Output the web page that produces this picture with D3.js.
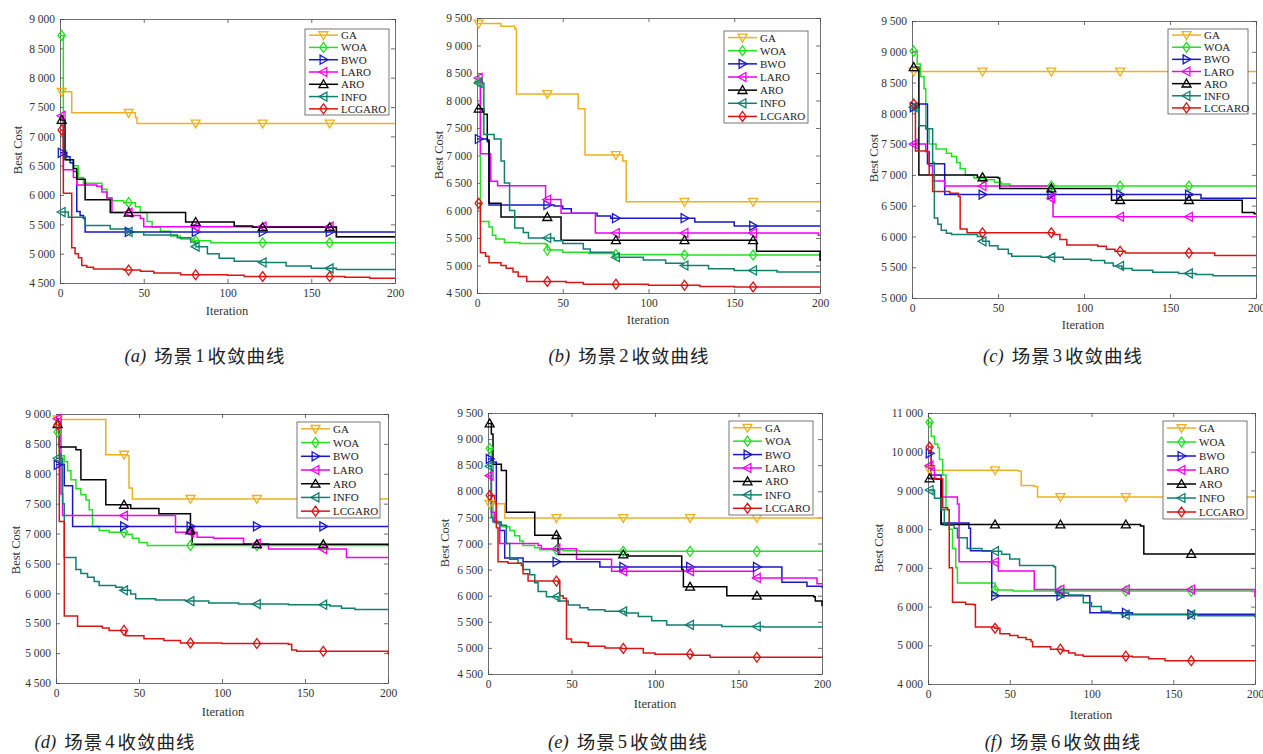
<!DOCTYPE html>
<html>
<head>
<meta charset="utf-8">
<script src="https://cdn.jsdelivr.net/npm/d3@7"></script>
<style>
  body { margin: 0; background: #fff; }
  svg { display: block; }
</style>
</head>
<body>
<div id="chart"></div>
<script>
// series names and looks
const seriesNames = ["GA", "WOA", "BWO", "LARO", "ARO", "INFO", "LCGARO"];
const seriesColors = ["#EDB120", "#22E022", "#1818C8", "#F000F0", "#000000", "#0F7F70", "#D81414"];
const seriesMarkers = ["down", "diamond", "right", "left", "up", "left", "diamond"];
const markerIters = [1, 41, 81, 121, 161];
const xTicks = [0, 50, 100, 150, 200];

// (a) scene 1  -- [iteration, best cost] step breakpoints
const aGA = [[0,7760],[7,7400],[45,7320],[46,7220],[200,7220]];
const aWOA = [[0,8720],[2,6750],[4,6600],[8,6500],[11,6300],[14,6200],[25,6100],[28,5950],[31,5900],[38,5870],[45,5800],[48,5700],[52,5550],[55,5450],[60,5380],[66,5300],[72,5250],[80,5220],[90,5185],[200,5180]];
const aBWO = [[0,6720],[4,6650],[6,6550],[8,6400],[10,5720],[12,5650],[14,5600],[15,5370],[200,5370]];
const aLARO = [[0,7350],[2,6430],[8,6300],[10,6170],[22,6150],[25,6050],[28,5950],[31,5700],[43,5650],[48,5600],[50,5460],[164,5460],[165,5290],[200,5290]];
const aARO = [[0,7280],[3,6600],[8,6450],[10,6270],[15,5920],[30,5700],[75,5540],[104,5470],[115,5450],[164,5450],[165,5290],[200,5290]];
const aINFO = [[0,5710],[5,5620],[15,5480],[30,5420],[41,5370],[50,5320],[70,5270],[78,5200],[81,5120],[88,5000],[95,4920],[104,4870],[120,4850],[135,4790],[150,4750],[165,4730],[200,4720]];
const aLCGARO = [[0,7110],[2,6030],[7,5100],[9,5000],[11,4930],[13,4800],[16,4770],[20,4740],[38,4720],[48,4700],[56,4670],[72,4640],[100,4630],[110,4610],[170,4600],[185,4580],[200,4580]];

// (b) scene 2
const bGA = [[0,9400],[14,9350],[22,9300],[23,8120],[59,7850],[63,7010],[85,6900],[87,6160],[200,6160]];
const bWOA = [[0,8350],[2,5800],[7,5700],[9,5550],[11,5480],[16,5420],[25,5400],[40,5380],[41,5280],[50,5240],[65,5220],[80,5200],[120,5190],[200,5190]];
const bBWO = [[0,7300],[6,7250],[7,6100],[45,6080],[50,6030],[55,5950],[70,5900],[78,5860],[126,5860],[127,5790],[150,5720],[200,5720]];
const bLARO = [[0,8410],[2,7030],[8,6530],[12,6450],[39,6450],[40,6200],[49,5950],[69,5590],[198,5590],[199,5550],[200,5550]];
const bARO = [[0,7850],[4,7750],[6,7280],[7,6130],[14,5880],[48,5880],[49,5460],[162,5460],[163,5260],[199,5260],[200,5080]];
const bINFO = [[0,8320],[4,7380],[10,7300],[14,6900],[16,6500],[19,6000],[22,5680],[27,5600],[30,5500],[45,5450],[50,5400],[62,5300],[66,5240],[80,5150],[97,5100],[110,5040],[120,5000],[135,4940],[150,4910],[175,4880],[200,4870]];
const bLCGARO = [[0,6130],[2,5230],[5,5170],[7,5050],[14,5000],[17,4950],[21,4880],[24,4800],[29,4710],[52,4690],[62,4660],[100,4640],[130,4620],[150,4610],[200,4610]];

// (c) scene 3
const cGA = [[0,8680],[200,8680]];
const cWOA = [[0,9010],[3,8800],[5,8600],[7,8400],[8,7750],[10,7500],[14,7420],[20,7350],[23,7300],[26,7200],[28,7100],[31,7000],[36,6950],[42,6920],[48,6880],[52,6850],[57,6820],[200,6820]];
const cBWO = [[0,8100],[4,8150],[9,7180],[19,6680],[166,6680],[168,6620],[200,6620]];
const cLARO = [[0,7500],[8,7380],[10,7150],[12,6900],[19,6820],[81,6620],[82,6320],[200,6320]];
const cARO = [[0,8750],[4,7000],[38,6960],[50,6950],[51,6780],[115,6780],[116,6590],[191,6590],[192,6390],[199,6370],[200,6370]];
const cINFO = [[0,8100],[4,7800],[8,7750],[12,7200],[13,6300],[15,6200],[17,6100],[20,6050],[23,6030],[38,6000],[41,5920],[45,5850],[50,5790],[56,5720],[58,5680],[75,5660],[88,5630],[104,5610],[112,5570],[117,5520],[122,5480],[128,5450],[140,5420],[155,5400],[165,5380],[175,5360],[200,5350]];
const cLCGARO = [[0,8150],[2,7390],[9,7350],[10,7000],[12,6730],[22,6700],[27,6650],[28,6120],[32,6060],[82,6030],[86,5950],[90,5860],[108,5840],[113,5790],[118,5760],[124,5730],[176,5690],[200,5690]];

// (d) scene 4
const dGA = [[0,8910],[30,8320],[43,8300],[44,7760],[46,7580],[200,7580]];
const dWOA = [[0,8700],[2,8300],[5,8200],[7,8050],[9,7900],[12,7750],[15,7650],[18,7560],[20,7400],[22,7120],[26,7050],[32,7020],[42,6990],[46,6920],[50,6850],[55,6800],[200,6790]];
const dBWO = [[0,8150],[4,8160],[5,7800],[9,7800],[10,7120],[200,7120]];
const dLARO = [[0,8920],[3,7660],[4,7300],[71,7300],[72,7020],[85,6940],[95,6920],[113,6830],[128,6740],[174,6740],[175,6600],[200,6600]];
const dARO = [[0,8830],[2,8450],[12,8400],[15,7900],[30,7480],[45,7420],[62,7330],[80,7330],[81,7050],[82,6820],[200,6800]];
const dINFO = [[0,8260],[4,7500],[5,6600],[12,6400],[15,6330],[19,6270],[23,6200],[26,6130],[36,6100],[40,6050],[45,5990],[48,5910],[60,5890],[78,5870],[92,5840],[110,5820],[140,5810],[165,5790],[172,5750],[180,5730],[200,5730]];
const dLCGARO = [[0,8820],[2,7200],[5,5620],[13,5450],[28,5420],[32,5380],[42,5290],[53,5240],[65,5210],[75,5170],[100,5160],[140,5150],[142,5050],[145,5030],[198,5030],[200,4980]];

// (e) scene 5
const eGA = [[0,7760],[9,7760],[10,7490],[200,7490]];
const eWOA = [[0,8820],[2,7800],[3,7430],[6,7380],[8,7320],[13,7250],[16,7150],[19,7050],[21,6960],[28,6920],[31,6880],[45,6860],[55,6850],[200,6850]];
const eBWO = [[0,8620],[3,8560],[5,7400],[7,7250],[10,6720],[21,6650],[67,6550],[175,6550],[176,6260],[191,6180],[200,6150]];
const eLARO = [[0,8300],[2,7600],[4,7400],[7,7000],[30,6960],[32,6900],[52,6900],[53,6700],[73,6700],[74,6470],[158,6470],[159,6340],[196,6340],[197,6230],[200,6230]];
const eARO = [[0,9300],[2,9100],[3,8520],[8,8400],[11,7600],[28,7160],[42,6790],[84,6760],[116,6500],[117,6170],[143,6000],[195,5980],[196,5900],[199,5900],[200,5800]];
const eINFO = [[0,8480],[2,7500],[3,7410],[8,7350],[11,7000],[13,6700],[18,6620],[21,6500],[25,6400],[28,6250],[30,6080],[35,5980],[42,5900],[48,5820],[55,5770],[60,5730],[70,5700],[82,5670],[90,5600],[98,5520],[107,5440],[140,5410],[165,5400],[200,5390]];
const eLCGARO = [[0,7920],[4,7800],[5,7300],[6,6650],[12,6620],[20,6580],[21,6420],[24,6280],[42,6260],[43,6000],[45,5950],[47,5170],[50,5110],[58,5100],[60,5030],[70,5000],[80,4990],[92,4990],[93,4900],[100,4880],[122,4860],[133,4820],[200,4810]];

// (f) scene 6
const fGA = [[0,9520],[55,9500],[57,9130],[65,9100],[67,8830],[200,8830]];
const fWOA = [[0,10760],[2,10400],[4,10200],[6,10100],[7,9800],[9,9400],[11,8500],[13,8000],[15,7500],[17,7000],[18,6610],[40,6610],[41,6430],[52,6400],[198,6390],[200,6250]];
const fBWO = [[0,9960],[2,9400],[8,8160],[25,8020],[26,7440],[38,7430],[39,6280],[98,6280],[99,5840],[120,5840],[125,5800],[200,5800]];
const fLARO = [[0,9640],[4,9300],[8,8830],[17,8830],[18,8650],[19,7160],[40,7150],[43,6920],[64,6920],[65,6440],[199,6440],[200,6250]];
const fARO = [[0,9310],[5,9290],[8,8120],[127,8120],[130,8080],[132,7360],[200,7360]];
const fINFO = [[0,9010],[4,8800],[8,8500],[10,8100],[16,8020],[18,7780],[24,7500],[33,7430],[45,7350],[50,7230],[56,7060],[77,7030],[78,6350],[86,6300],[95,6100],[100,6000],[106,5880],[112,5820],[121,5790],[165,5760],[200,5720]];
const fLCGARO = [[0,10120],[2,9300],[8,9300],[9,8550],[12,8500],[13,7000],[15,6110],[23,6060],[28,6050],[29,5470],[41,5440],[44,5300],[50,5250],[55,5200],[60,5150],[63,5100],[64,4960],[75,4900],[82,4860],[86,4800],[90,4750],[95,4720],[125,4700],[135,4650],[145,4600],[200,4590]];

const yDomA = [4500, 9000], yDomB = [4500, 9500], yDomC = [5000, 9500];
const yDomD = [4500, 9000], yDomE = [4500, 9500], yDomF = [4000, 11000];
const yStepA = 500, yStepB = 500, yStepC = 500, yStepD = 500, yStepE = 500, yStepF = 1000;

const captionTags = ["a", "b", "c", "d", "e", "f"];
const sceneNumbers = ["1", "2", "3", "4", "5", "6"];

// layout of each panel (pixels)
const panels = [
  {series:[aGA,aWOA,aBWO,aLARO,aARO,aINFO,aLCGARO], yDom:yDomA, yStep:yStepA,
   box:[60,395,19,283], legend:[305,29,84,86], xl:[227,312], yl:[19,150], cap:[205,358]},
  {series:[bGA,bWOA,bBWO,bLARO,bARO,bINFO,bLCGARO], yDom:yDomB, yStep:yStepB,
   box:[477,820,18,293], legend:[724,31,84,92], xl:[648,321], yl:[440,155], cap:[629,358]},
  {series:[cGA,cWOA,cBWO,cLARO,cARO,cINFO,cLCGARO], yDom:yDomC, yStep:yStepC,
   box:[912,1256,21,298], legend:[1168,29,80,85], xl:[1083,326], yl:[875,158], cap:[1063,358]},
  {series:[dGA,dWOA,dBWO,dLARO,dARO,dINFO,dLCGARO], yDom:yDomD, yStep:yStepD,
   box:[56,388,414,683], legend:[297,422,83,96], xl:[223,713], yl:[17,550], cap:[115,744]},
  {series:[eGA,eWOA,eBWO,eLARO,eARO,eINFO,eLCGARO], yDom:yDomE, yStep:yStepE,
   box:[488,822,413,674], legend:[729,421,84,94], xl:[655,705], yl:[446,543], cap:[628,744]},
  {series:[fGA,fWOA,fBWO,fLARO,fARO,fINFO,fLCGARO], yDom:yDomF, yStep:yStepF,
   box:[928,1255,413,684], legend:[1163,421,84,98], xl:[1091,716], yl:[880,548], cap:[1063,744]}
];

const W = 1263, H = 754;
const serif = "'Liberation Serif', 'DejaVu Serif', serif";
const cjk = "'Noto Sans CJK SC', sans-serif";
const fmt = d3.formatLocale({decimal:".", thousands:" ", grouping:[3], currency:["",""]}).format(",");

const svg = d3.select("#chart").append("svg")
  .attr("width", W).attr("height", H);

function markerPath(type, r) {
  switch (type) {
    case "down": return `M0,${r}L${r},${-r*0.75}L${-r},${-r*0.75}Z`;
    case "up": return `M0,${-r}L${r},${r*0.75}L${-r},${r*0.75}Z`;
    case "right": return `M${r},0L${-r*0.75},${-r}L${-r*0.75},${r}Z`;
    case "left": return `M${-r},0L${r*0.75},${-r}L${r*0.75},${r}Z`;
    default: return `M0,${-r*1.1}L${r*0.8},0L0,${r*1.1}L${-r*0.8},0Z`;
  }
}

function valAt(pts, it) {
  let v = pts[0][1];
  for (const p of pts) if (p[0] <= it) v = p[1];
  return v;
}

panels.forEach((p, pi) => {
  const [x0, x1, y0, y1] = p.box;
  const g = svg.append("g");

  const xScale = d3.scaleLinear().domain([0, 200]).range([x0, x1]);
  const yScale = d3.scaleLinear().domain(p.yDom).range([y1, y0]);
  const yTicks = d3.range(p.yDom[0], p.yDom[1] + 1, p.yStep);

  // box with inward ticks on all sides
  const styleAxis = sel => {
    sel.selectAll("path.domain").attr("stroke", "#4a4a4a").attr("stroke-width", 0.8);
    sel.selectAll(".tick line").attr("stroke", "#4a4a4a").attr("stroke-width", 0.8);
    sel.selectAll(".tick text").attr("fill", "#333").style("font-family", serif).style("font-size", "11.5px");
  };
  g.append("g").attr("transform", `translate(0,${y1})`)
    .call(d3.axisBottom(xScale).tickValues(xTicks).tickSizeInner(-4).tickSizeOuter(0).tickPadding(6))
    .call(styleAxis);
  g.append("g").attr("transform", `translate(0,${y0})`)
    .call(d3.axisTop(xScale).tickValues(xTicks).tickSizeInner(-4).tickSizeOuter(0).tickFormat(""))
    .call(styleAxis);
  g.append("g").attr("transform", `translate(${x0},0)`)
    .call(d3.axisLeft(yScale).tickValues(yTicks).tickSizeInner(-4).tickSizeOuter(0).tickPadding(5).tickFormat(fmt))
    .call(styleAxis);
  g.append("g").attr("transform", `translate(${x1},0)`)
    .call(d3.axisRight(yScale).tickValues(yTicks).tickSizeInner(-4).tickSizeOuter(0).tickFormat(""))
    .call(styleAxis);

  // lines
  const line = d3.line()
    .x(d => xScale(d[0]))
    .y(d => yScale(d[1]))
    .curve(d3.curveStepAfter);

  p.series.forEach((pts, si) => {
    g.append("path")
      .attr("d", line(pts))
      .attr("fill", "none")
      .attr("stroke", seriesColors[si])
      .attr("stroke-width", 1.5);
  });
  p.series.forEach((pts, si) => {
    markerIters.forEach(it => {
      g.append("path")
        .attr("d", markerPath(seriesMarkers[si], 4.5))
        .attr("transform", `translate(${xScale(it)},${yScale(valAt(pts, it))})`)
        .attr("fill", "none")
        .attr("stroke", seriesColors[si])
        .attr("stroke-width", 1.3);
    });
  });

  // axis titles
  g.append("text")
    .attr("x", p.xl[0]).attr("y", p.xl[1])
    .attr("text-anchor", "middle").attr("dominant-baseline", "middle")
    .style("font-family", serif).style("font-size", "12.5px").attr("fill", "#333")
    .text("Iteration");
  g.append("text")
    .attr("transform", `translate(${p.yl[0]},${p.yl[1]}) rotate(-90)`)
    .attr("text-anchor", "middle").attr("dominant-baseline", "middle")
    .style("font-family", serif).style("font-size", "12.5px").attr("fill", "#333")
    .text("Best Cost");

  // legend
  const [lx, ly, lw, lh] = p.legend;
  const lg = g.append("g");
  lg.append("rect")
    .attr("x", lx).attr("y", ly).attr("width", lw).attr("height", lh)
    .attr("fill", "#fff").attr("stroke", "#555").attr("stroke-width", 0.8);
  seriesNames.forEach((name, si) => {
    const cy = ly + lh * (si + 0.5) / 7;
    lg.append("line")
      .attr("x1", lx + 4).attr("x2", lx + 33).attr("y1", cy).attr("y2", cy)
      .attr("stroke", seriesColors[si]).attr("stroke-width", 1.5);
    lg.append("path")
      .attr("d", markerPath(seriesMarkers[si], 4.5))
      .attr("transform", `translate(${lx + 18.5},${cy})`)
      .attr("fill", "none").attr("stroke", seriesColors[si]).attr("stroke-width", 1.3);
    lg.append("text")
      .attr("x", lx + 36).attr("y", cy)
      .attr("dominant-baseline", "central")
      .style("font-family", serif).style("font-size", "11px").attr("fill", "#222")
      .text(name);
  });

  // caption
  const cap = g.append("text")
    .attr("x", p.cap[0]).attr("y", p.cap[1])
    .attr("text-anchor", "middle").attr("dominant-baseline", "middle")
    .attr("fill", "#222").style("font-size", "18.5px");
  cap.append("tspan").style("font-family", serif).style("font-style", "italic")
    .text(`(${captionTags[pi]})`);
  cap.append("tspan").attr("dx", 8).style("font-family", cjk).style("letter-spacing", "1px")
    .text("场景");
  cap.append("tspan").attr("dx", 2).style("font-family", serif)
    .text(sceneNumbers[pi]);
  cap.append("tspan").attr("dx", 3).style("font-family", cjk).style("letter-spacing", "1px")
    .text("收敛曲线");
});
</script>
</body>
</html>
